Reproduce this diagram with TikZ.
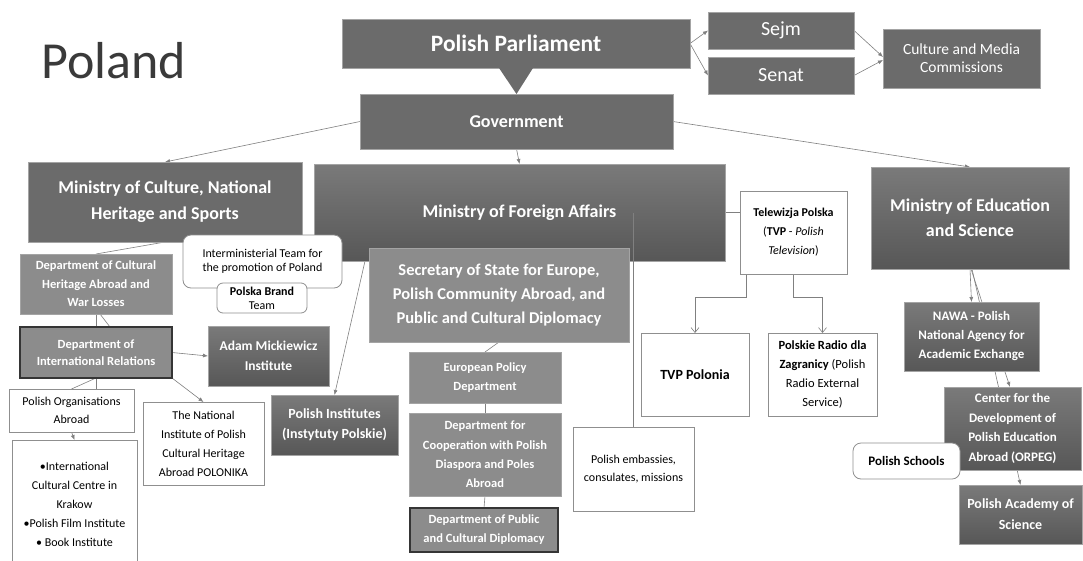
\documentclass[tikz,border=0pt]{standalone}
\usepackage{fontspec}
\setmainfont{Carlito}
\usetikzlibrary{arrows.meta,calc,backgrounds}

\definecolor{boxdark}{HTML}{6B6B6B}
\definecolor{boxmid}{HTML}{8C8C8C}
\definecolor{gradtop}{HTML}{7A7A7A}
\definecolor{gradbot}{HTML}{575757}
\definecolor{boxedge}{HTML}{A4A4A4}
\definecolor{boxline}{HTML}{353535}
\definecolor{whiteedge}{HTML}{8F8F8F}
\definecolor{connline}{HTML}{808080}
\definecolor{titlegray}{HTML}{3A3A3A}

\newcommand{\setfs}[2]{\fontsize{#1}{#2}\selectfont}

\tikzset{
  box/.style={draw=boxedge, line width=0.6pt, inner sep=2pt, outer sep=0pt, align=center},
  darkbox/.style={box, fill=boxdark, text=white},
  gradbox/.style={box, top color=gradtop, bottom color=gradbot, text=white},
  midbox/.style={box, fill=boxmid, text=white},
  thickbox/.style={midbox, draw=boxline, line width=1.4pt},
  whitebox/.style={box, draw=whiteedge, line width=0.8pt, fill=white, text=black},
  roundbox/.style={whitebox, rounded corners=8pt},
  conn/.style={draw=connline, line width=0.6pt},
  arr/.style={conn, -{Latex[length=5pt,width=4pt]}},
  openarr/.style={conn, -{Straight Barb[length=5pt,width=8pt]}},
}

\begin{document}
\begin{tikzpicture}[x=1pt,y=-1pt]
  \useasboundingbox (0,0) rectangle (1083,560);

  % Title
  \node[anchor=base west, inner sep=0pt, text=titlegray, font=\setfs{52}{60}] (title) at (41,78) {Poland};

  % Parliament and its chambers
  \node[darkbox, minimum width=348, minimum height=49, font=\setfs{23.5}{28}\bfseries] (parl) at (516,43.5) {Polish Parliament};
  \node[darkbox, minimum width=146, minimum height=37, font=\setfs{20}{24}] (sejm) at (781,30.5) {Sejm};
  \node[darkbox, minimum width=146, minimum height=37, font=\setfs{20}{24}] (senat) at (781,75.5) {Senat};
  \node[darkbox, minimum width=157, minimum height=59, font=\setfs{15.5}{18}] (comm) at (961.5,58.5) {Culture and Media\\Commissions};

  % Government
  \node[darkbox, minimum width=313, minimum height=55, font=\setfs{18}{22}\bfseries] (gov) at (516.5,121.5) {Government};
  \fill[boxdark] ($(parl.south)+(-17,0)$) -- ($(parl.south)+(17,0)$) -- (gov.north) -- cycle;

  % Ministry of Culture branch
  \node[darkbox, minimum width=274, minimum height=80, font=\setfs{18}{26}\bfseries] (culture) at (165,202) {Ministry of Culture, National\\Heritage and Sports};
  \node[midbox, minimum width=152, minimum height=60, font=\setfs{12.5}{18.5}\bfseries] (heritage) at (96,284) {Department of Cultural\\Heritage Abroad and\\War Losses};
  \node[thickbox, minimum width=152, minimum height=51, font=\setfs{12.5}{17.5}\bfseries] (intl) at (96,352.5) {Department of\\International Relations};
  \node[gradbox, minimum width=121, minimum height=60, font=\setfs{13.5}{20}\bfseries] (adam) at (268.5,356) {Adam Mickiewicz\\Institute};
  \node[whitebox, minimum width=125, minimum height=43, font=\setfs{12}{18}] (orgs) at (71.5,410.5) {Polish Organisations\\Abroad};
  \node[whitebox, minimum width=125, minimum height=128, font=\setfs{12}{19}] (list) at (74.5,504) {•International\\Cultural Centre in\\Krakow\\•Polish Film Institute\\• Book Institute};
  \node[whitebox, minimum width=121, minimum height=83, font=\setfs{12}{19}] (polonika) at (203.5,443.5) {The National\\Institute of Polish\\Cultural Heritage\\Abroad POLONIKA};

  % Ministry of Foreign Affairs branch
  \node[gradbox, minimum width=411, minimum height=97, font=\setfs{18}{22}\bfseries] (mfa) at (519.5,212.5) {Ministry of Foreign Affairs};
  \node[roundbox, minimum width=159, minimum height=53, font=\setfs{12}{14}] (team) at (262.5,261.5) {Interministerial Team for\\the promotion of Poland};
  \node[roundbox, rounded corners=6pt, minimum width=90, minimum height=30, font=\setfs{12}{14}] (brand) at (262,298) {\textbf{Polska Brand}\\Team};
  \node[midbox, minimum width=260, minimum height=94, font=\setfs{16.5}{24}\bfseries] (sec) at (499,295) {Secretary of State for Europe,\\Polish Community Abroad, and\\Public and Cultural Diplomacy};
  \node[gradbox, minimum width=127, minimum height=60, font=\setfs{14}{20}\bfseries] (inst) at (334.5,425) {Polish Institutes\\(Instytuty Polskie)};
  \node[midbox, minimum width=152, minimum height=51, font=\setfs{12.5}{19}\bfseries] (euro) at (485,377.5) {European Policy\\Department};
  \node[midbox, minimum width=152, minimum height=83, font=\setfs{12.5}{19.3}\bfseries] (coop) at (485,454.5) {Department for\\Cooperation with Polish\\Diaspora and Poles\\Abroad};
  \node[thickbox, minimum width=148, minimum height=44, font=\setfs{12.5}{19}\bfseries] (pubdip) at (484,530) {Department of Public\\and Cultural Diplomacy};
  \node[whitebox, minimum width=121, minimum height=84, font=\setfs{12}{18}] (emb) at (633.5,469) {Polish embassies,\\consulates, missions};

  % Public media
  \node[whitebox, minimum width=107, minimum height=83, font=\setfs{12}{19}] (tvp) at (793.5,232.5) {\textbf{Telewizja Polska}\\(\textbf{TVP} - \textit{Polish}\\\textit{Television})};
  \node[whitebox, minimum width=108, minimum height=83, font=\setfs{14}{19}\bfseries] (polonia) at (695,374.5) {TVP Polonia};
  \node[whitebox, minimum width=109, minimum height=83, font=\setfs{12.5}{19}] (radio) at (822.5,374.5) {\textbf{Polskie Radio dla}\\\textbf{Zagranicy} (Polish\\Radio External\\Service)};

  % Ministry of Education branch
  \node[gradbox, minimum width=198, minimum height=102, font=\setfs{18}{25}\bfseries] (moe) at (970,218) {Ministry of Education\\and Science};
  \node[gradbox, minimum width=135, minimum height=69, font=\setfs{13}{19}\bfseries] (nawa) at (971.5,336.5) {NAWA - Polish\\National Agency for\\Academic Exchange};
  \node[gradbox, minimum width=137, minimum height=83, font=\setfs{13}{19.5}\bfseries] (orpeg) at (1012.5,428.5) {Center for the\\Development of\\Polish Education\\Abroad (ORPEG)};
  \node[roundbox, minimum width=107, minimum height=36, font=\setfs{13}{16}\bfseries] (schools) at (906.5,461) {Polish Schools};
  \node[gradbox, minimum width=123, minimum height=59, font=\setfs{14}{21}\bfseries] (academy) at (1020.5,514.5) {Polish Academy of\\Science};

  % Line to the embassies runs over the ministry box
  \draw[conn] (emb.north |- mfa.center) -- (emb.north);

  \begin{scope}[on background layer]
    \fill[white] (0,0) rectangle (1083,560);

    % Parliament
    \draw[arr] (parl.east) -- (sejm.west);
    \draw[arr] (parl.east) -- (senat.west);
    \draw[arr] (sejm.east) -- ([yshift=1.5pt]comm.west);
    \draw[arr] (senat.east) -- ([yshift=-1.5pt]comm.west);

    % Government to ministries
    \draw[arr] (gov.west) -- (culture.north);
    \draw[arr] (gov.south) -- (mfa.north);
    \draw[arr] (gov.east) -- (moe.north);

    % Ministry of Culture
    \draw[conn] (culture.south) -- (heritage.north);
    \draw[conn] (heritage.south) -- (intl.north);
    \draw[conn] ([xshift=4pt]heritage.south) -- ([xshift=14pt]intl.north);
    \draw[arr] (intl.east) -- (adam.west);
    \draw[arr] (intl.south east) -- (polonika.north);
    \draw[conn] (intl.south) -- (orgs.north);
    \draw[conn] (intl.south) -- (intl.south |- orgs.north);
    \draw[arr] (orgs.south) -- (list.north);

    % Foreign Affairs
    \draw[arr] ([xshift=51pt]mfa.south west) -- (inst.north);
    \draw[conn] (sec.south) -- (euro.north);
    \draw[conn] (euro.south) -- (coop.north);
    \draw[conn] (coop.south) -- (pubdip.north);
    \draw[conn] (mfa.east) -- (mfa.east -| tvp.west);
    \draw[openarr] (tvp.south west) ++(6,0) -- ++(0,23) -| (polonia.north);
    \draw[openarr] (tvp.south) -- ++(0,23) -| (radio.north);

    % Education
    \draw[arr] (moe.south) -- (nawa.north);
    \draw[arr] ([xshift=1pt]moe.south) -- ([xshift=-2.5pt]orpeg.north);
    \draw[arr] ([xshift=2pt]moe.south) -- (academy.north);
  \end{scope}
\end{tikzpicture}
\end{document}
